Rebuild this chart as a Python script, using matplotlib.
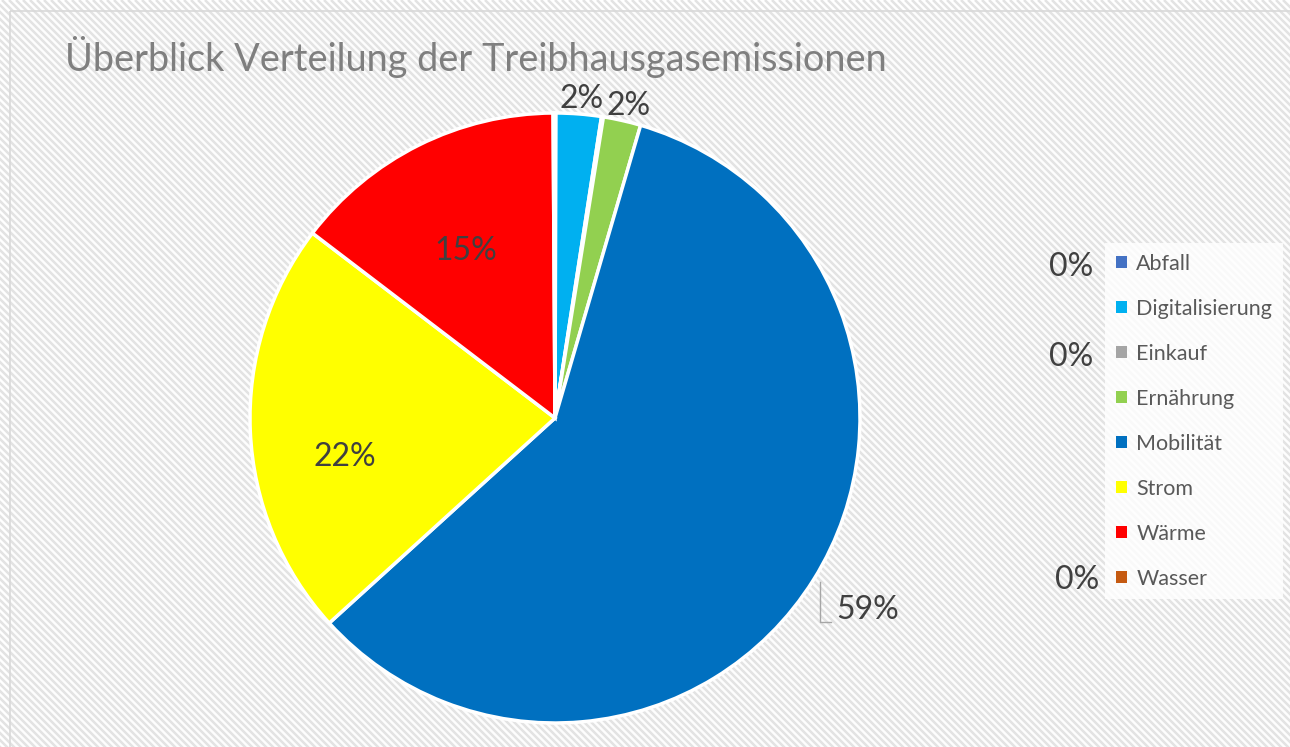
import matplotlib
matplotlib.use("Agg")
import matplotlib.pyplot as plt
from matplotlib.patches import Rectangle, Patch
from matplotlib.collections import LineCollection
import numpy as np

plt.rcParams['font.family'] = ['Lato', 'DejaVu Sans']

# ---- data ----
categories = ["Abfall", "Digitalisierung", "Einkauf", "Ernährung",
              "Mobilität", "Strom", "Wärme", "Wasser"]
values = [0.05, 2.4, 0.1, 2.0, 59.0, 22.2, 14.6, 0.1]
colors = ["#4472C4", "#00B0F0", "#A5A5A5", "#92D050",
          "#0070C0", "#FFFF00", "#FF0000", "#C55A11"]
title = "Überblick Verteilung der Treibhausgasemissionen"

W, H = 1290, 747
fig = plt.figure(figsize=(W / 100, H / 100), dpi=100)
fig.patch.set_facecolor('white')

# background panel with diagonal stripes
bg = fig.add_axes([0, 0, 1, 1])
bg.set_xlim(0, W)
bg.set_ylim(H, 0)
bg.axis('off')
panel = Rectangle((10, 11), W, H, facecolor='#fdfdfd', edgecolor='none',
                  zorder=0)
bg.add_patch(panel)
starts = np.arange(-H, W, 7.0)
segs = [[(s, 0), (s + H + 20, H + 20)] for s in starts]
stripes = LineCollection(segs, colors='#e3e3e3', linewidths=1.8, zorder=0.5)
stripes.set_clip_path(panel)
bg.add_collection(stripes)
bg.add_patch(Rectangle((10, 11), W, H, facecolor='none',
                       edgecolor='#d9d9d9', lw=1.2, zorder=1))

# pie axes (pixel coordinates, y up)
ax = fig.add_axes([0, 0, 1, 1])
ax.patch.set_visible(False)
cx, cy, R = 555, H - 418, 305
wedges, _ = ax.pie(values, colors=colors, startangle=90, counterclock=False,
                   center=(cx, cy), radius=R, frame=True,
                   wedgeprops=dict(edgecolor='white', linewidth=2.5))
ax.set_xlim(0, W)
ax.set_ylim(0, H)
ax.set_aspect('equal')
ax.axis('off')

total = sum(values)
pct = [f"{round(v / total * 100):.0f}%" for v in values]

# label placement (radius factor / angular tweak in degrees) per slice
lab_color = '#404040'
lab_fs = 23
place = {1: (1.05, -0.3), 3: (1.05, -0.6), 5: (0.70, 8.0), 6: (0.62, 1.5)}
for i, (w, p) in enumerate(zip(wedges, pct)):
    if i in place:
        fr, dang = place[i]
        mid = np.deg2rad((w.theta1 + w.theta2) / 2 + dang)
        x = cx + fr * R * np.cos(mid)
        y = cy + fr * R * np.sin(mid)
        ax.text(x, y, p, ha='center', va='center', fontsize=lab_fs,
                color=lab_color)

# Mobilität label with leader line
ax.plot([820, 820, 831], [H - 582, H - 622, H - 622], color='#a6a6a6', lw=1)
ax.text(836, H - 610, pct[4], ha='left', va='center', fontsize=lab_fs,
        color=lab_color)

# tiny slices: labels displaced to the right
for i, yy in zip([0, 2, 7], [267, 357, 580]):
    ax.text(1093 if i != 7 else 1099, H - yy, pct[i], ha='right', va='center',
            fontsize=lab_fs, color=lab_color)

# title
fig.text(65 / W, 1 - 57 / H, title, ha='left', va='center', fontsize=27.3,
         color='#7f7f7f')

# legend
handles = [Patch(facecolor=c, edgecolor='none') for c in colors]
leg = fig.legend(handles, categories, loc='upper left',
                 bbox_to_anchor=(1105 / W, 1 - 243 / H),
                 frameon=True, fontsize=15.5, labelcolor='#595959',
                 handlelength=0.5, handleheight=0.5, handletextpad=0.45,
                 labelspacing=1.16, borderpad=0.5, borderaxespad=0)
fr_ = leg.get_frame()
fr_.set_facecolor('white')
fr_.set_alpha(0.8)
fr_.set_edgecolor('none')
fr_.set_boxstyle('square', pad=0)

fig.savefig('out.png', dpi=100)
